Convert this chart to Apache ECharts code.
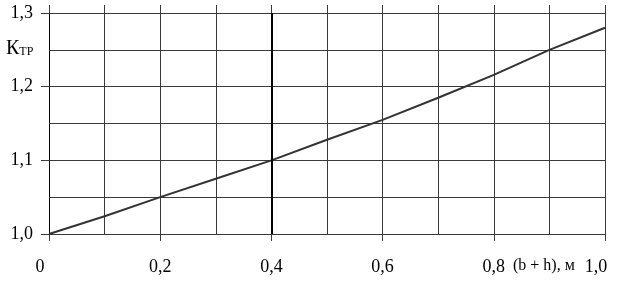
<!DOCTYPE html>
<html><head><meta charset="utf-8">
<script src="https://cdn.jsdelivr.net/npm/echarts@6/dist/echarts.min.js"></script>
<style>html,body{margin:0;padding:0;background:#fff}#c{width:627px;height:286px}</style>
</head><body><div id="c"></div>
<script>
const xValues = [0, 0.1, 0.2, 0.3, 0.4, 0.5, 0.6, 0.7, 0.8, 0.9, 1.0];
const kValues = [1.0, 1.024, 1.05, 1.075, 1.10, 1.128, 1.155, 1.185, 1.216, 1.25, 1.28];
const xAxisName = '(b + h), м';
const yAxisName = ['К', 'ТР'];

const FONT = '"Liberation Serif", "DejaVu Serif", serif';
const GRID_COLOR = '#3a3a3a';
const chart = echarts.init(document.getElementById('c'));
const fmt = v => {
  if (Math.abs(v) < 1e-9) return '{z|0}';
  const s = v.toFixed(1).replace('.', ',');
  if (Math.abs(v - 1) < 1e-9) return '{z|' + s + '}';
  return s;
};
chart.setOption({
  animation: false,
  backgroundColor: '#fff',
  grid: { left: 49, right: 22, top: 13, bottom: 52 },
  xAxis: [{
    type: 'value', min: 0, max: 1, interval: 0.2,
    axisLine: { show: true, lineStyle: { color: GRID_COLOR, width: 1 } },
    axisTick: { show: true, length: 7, lineStyle: { color: GRID_COLOR } },
    minorTick: { show: false, splitNumber: 2 },
    splitLine: { show: true, lineStyle: { color: GRID_COLOR, width: 1 } },
    minorSplitLine: { show: true, lineStyle: { color: GRID_COLOR, width: 1 } },
    axisLabel: {
      margin: 24, color: '#000', fontFamily: FONT, fontSize: 18,
      formatter: fmt,
      rich: { z: { fontFamily: FONT, fontSize: 18, color: '#000', padding: [0, 18, 0, 0] } }
    }
  }, {
    type: 'value', min: 0, max: 1, interval: 0.2, position: 'top',
    axisLine: { show: false },
    axisTick: { show: true, length: 8, lineStyle: { color: GRID_COLOR } },
    minorTick: { show: true, splitNumber: 2, length: 8, lineStyle: { color: GRID_COLOR } },
    splitLine: { show: false }, axisLabel: { show: false }
  }],
  yAxis: [{
    type: 'value', min: 1.0, max: 1.3, interval: 0.1,
    axisLine: { show: true, lineStyle: { color: '#000', width: 1 } },
    axisTick: { show: true, length: 8, lineStyle: { color: GRID_COLOR } },
    splitLine: { show: true, lineStyle: { color: GRID_COLOR, width: 1 } },
    minorTick: { show: false, splitNumber: 2 },
    minorSplitLine: { show: true, lineStyle: { color: GRID_COLOR, width: 1 } },
    axisLabel: {
      margin: 16, color: '#000', fontFamily: FONT, fontSize: 18,
      formatter: v => v.toFixed(1).replace('.', ',')
    }
  }, {
    type: 'value', min: 1.0, max: 1.3, interval: 0.1, position: 'right',
    axisLine: { show: false },
    axisTick: { show: true, length: 5, lineStyle: { color: GRID_COLOR } },
    minorTick: { show: true, splitNumber: 2, length: 5, lineStyle: { color: GRID_COLOR } },
    splitLine: { show: false }, axisLabel: { show: false }
  }],
  graphic: [{
    type: 'text', left: 6, top: 39,
    style: {
      text: '{k|' + yAxisName[0] + '}{s|' + yAxisName[1] + '}',
      rich: {
        k: { fontFamily: FONT, fontSize: 20, fill: '#000', verticalAlign: 'bottom' },
        s: { fontFamily: FONT, fontSize: 12, fill: '#000', verticalAlign: 'bottom', padding: [0, 0, 1, 0] }
      }
    }
  }, {
    type: 'text', left: 513, top: 258,
    style: { text: xAxisName, fontFamily: FONT, fontSize: 16, fill: '#000' }
  }],
  series: [{
    type: 'line', xAxisIndex: 0, yAxisIndex: 0,
    data: xValues.map((x, i) => [x, kValues[i]]),
    showSymbol: false, smooth: false,
    lineStyle: { color: '#333', width: 2 },
    markLine: {
      silent: true, symbol: 'none', label: { show: false },
      lineStyle: { color: '#000', width: 2, type: 'solid' },
      data: [{ xAxis: 0.4 }]
    }
  }]
});
</script></body></html>
